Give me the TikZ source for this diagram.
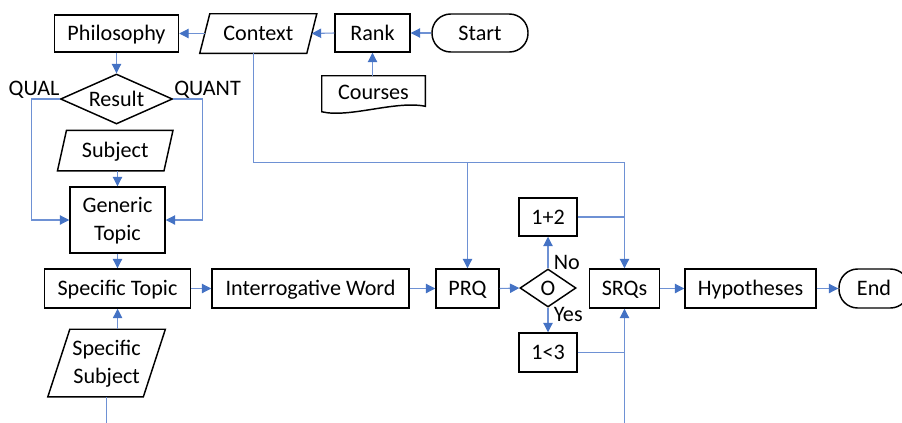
\documentclass[tikz,border=0pt]{standalone}
\usepackage{fontspec}
\setmainfont{Carlito}
\usetikzlibrary{arrows.meta,shapes.geometric,calc}
\definecolor{ln}{RGB}{110,145,212}
\definecolor{tipc}{RGB}{68,114,196}
\newcommand\drawpara[2]{\draw[line width=1.1pt,line join=miter] ($(#1.north west)+(#2,0)$) -- ($(#1.north east)+(#2,0)$) -- ($(#1.south east)+(-#2,0)$) -- ($(#1.south west)+(-#2,0)$) -- cycle;}
\begin{document}
\begin{tikzpicture}[x=0.75pt,y=-0.75pt,
  every node/.style={font=\fontsize{16.6}{21}\selectfont, inner sep=0pt, align=center, text height=10.7pt, text depth=0pt},
  ml/.style={text height=31.2pt},
  sz/.style 2 args={minimum width=#1*0.75pt, minimum height=#2*0.75pt},
  box/.style={draw, line width=1.1pt, rectangle},
  term/.style={draw, line width=1.1pt, rectangle, rounded corners=14pt},
  dia/.style={draw, line width=1.1pt, diamond},
  conn/.style={draw=ln, line width=0.8pt},
  arr/.style={conn, -{Triangle[length=7pt,width=7pt,color=tipc]}}]
\useasboundingbox (0,0) rectangle (902,422);

% top row
\node[box,sz={124}{37}] (phil) at (116.5,33.5) {Philosophy};
\node[sz={106.5}{39}] (ctx) at (258.3,33.5) {Context};
\drawpara{ctx}{5}
\coordinate (ctxB) at ($(ctx.south)+(-5,0)$);
\node[box,sz={75}{38}] (rank) at (372.5,33) {Rank};
\node[term,sz={96}{38}] (start) at (480,33) {Start};
\node[sz={103}{32}] (crs) at (373.5,92) {Courses};
\draw[line width=1.1pt,line join=miter] ($(crs.south west)+(0,3.5)$) -- (crs.north west) -- (crs.north east) -- ($(crs.south east)+(0,-2)$) .. controls ($(crs.south east)+(-30,-8)$) and ($(crs.south west)+(28,10)$) .. ($(crs.south west)+(0,3.5)$) -- cycle;

% left column
\node[dia,aspect=2.24,sz={112}{50}] (res) at (116.5,99) {Result};
\node[anchor=base] (qual) at (34,95) {QUAL};
\node[anchor=base] (quant) at (207.5,95) {QUANT};
\node[sz={106}{40}] (sub) at (115.2,150.7) {Subject};
\drawpara{sub}{4.5}
\node[box,ml,sz={95}{66}] (gen) at (117.5,220) {Generic\\Topic};
\node[box,sz={146}{39}] (spt) at (117.5,288.5) {Specific Topic};
\node[ml,sz={95}{67}] (sps) at (106.6,363) {Specific\\Subject};
\drawpara{sps}{11}
\coordinate (spsT) at ($(sps.north)+(11,0)$);

% middle row
\node[box,sz={197}{39}] (iw) at (310.5,288.5) {Interrogative Word};
\node[box,sz={63}{39}] (prq) at (467.5,288.5) {PRQ};
\node[dia,aspect=1.47,sz={56}{38}] (o) at (548,288) {O};
\node[box,sz={58}{38}] (a12) at (548,217) {1+2};
\node[box,sz={58}{39}] (a13) at (548,352.5) {1<3};
\node[anchor=base west] (no) at (553.5,269.5) {No};
\node[anchor=base west] (yes) at (553.5,321) {Yes};
\node[box,sz={70}{39}] (srq) at (624.5,288.5) {SRQs};
\node[box,sz={131}{39}] (hyp) at (750.5,288.5) {Hypotheses};
\node[term,sz={70}{39}] (end) at (874,288.5) {End};

\coordinate (bot) at (0,440);

% connectors
\draw[arr] (start.west) -- (rank.east);
\draw[arr] (rank.west) -- (ctx.east);
\draw[arr] (ctx.west) -- (phil.east);
\draw[arr] (rank.south |- crs.north) -- (rank.south);
\draw[arr] (phil.south) -- (res.north);
\draw[arr] (res.west) -- ++(-28,0) |- (gen.west);
\draw[arr] (res.east) -- ++(29,0) |- (gen.east);
\draw[arr] (gen.north |- sub.south) -- (gen.north);
\draw[arr] (gen.south) -- (spt.north);
\draw[arr] (spsT) -- (spsT |- spt.south);
\draw[conn] (sps.south) -- (sps.south |- bot);
\draw[arr] (spt.east) -- (iw.west);
\draw[arr] (iw.east) -- (prq.west);
\draw[arr] (prq.east) -- (o.west);
\draw[arr] (o.north) -- (a12.south);
\draw[arr] (o.south) -- (a13.north);
\coordinate (jn) at ($(ctxB)+(0,109)$);
\draw[arr] (ctxB) -- (jn) -| (srq.north);
\draw[arr] (jn -| prq.north) -- (prq.north);
\draw[conn] (a12.east) -- (a12.east -| srq.north);
\draw[conn] (a13.east) -- (a13.east -| srq.south);
\draw[arr] (srq.south |- bot) -- (srq.south);
\draw[arr] (srq.east) -- (hyp.west);
\draw[arr] (hyp.east) -- (end.west);
\end{tikzpicture}
\end{document}
